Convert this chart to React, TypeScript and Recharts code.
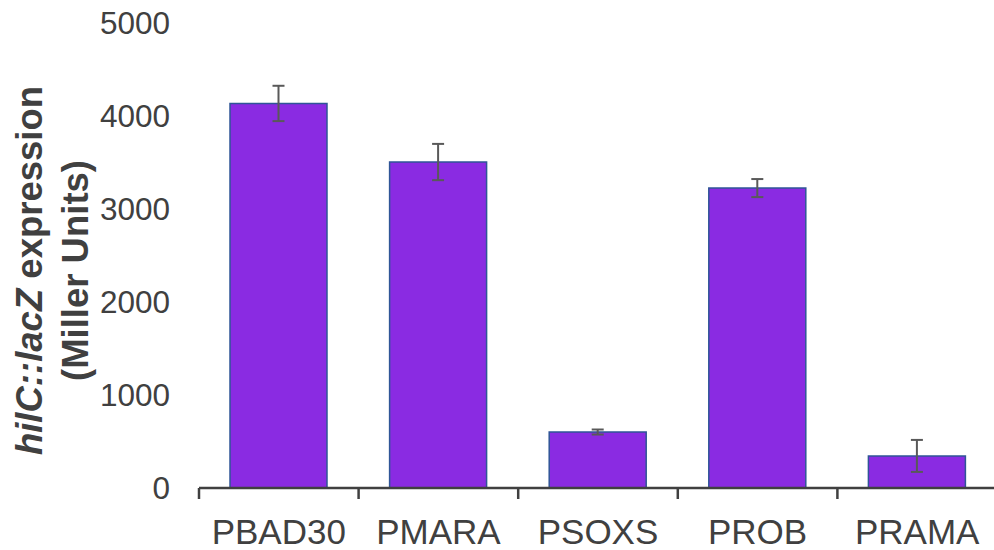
import React from 'react';
import { BarChart, Bar, XAxis, YAxis, ErrorBar } from 'recharts';

const categories = ['PBAD30', 'PMARA', 'PSOXS', 'PROB', 'PRAMA'];
const values = [4135, 3505, 602, 3225, 345];
const errors = [190, 195, 27, 97, 172];
const yTicks = [0, 1000, 2000, 3000, 4000, 5000];

const data = categories.map((name, i) => ({ name, value: values[i], err: errors[i] }));

const FONT = '"Liberation Sans", Arial, sans-serif';
const TEXT = '#404040';

const XTick = (props: any) => {
  const { x, y, payload, index, visibleTicksCount } = props;
  const off = payload && typeof payload.offset === 'number' ? payload.offset : 0;
  const axisY = y - 31;
  return (
    <g>
      <line x1={x - off} y1={axisY} x2={x - off} y2={axisY + 11} stroke="#404040" strokeWidth={2.5} />
      {index === visibleTicksCount - 1 && (
        <line x1={x + off} y1={axisY} x2={x + off} y2={axisY + 11} stroke="#404040" strokeWidth={2.5} />
      )}
      <text x={x} y={y} dy="0.71em" textAnchor="middle" fill={TEXT} fontSize={35} fontFamily={FONT}>
        {payload.value}
      </text>
    </g>
  );
};

const YLabel = (props: any) => {
  const vb = props.viewBox || { x: 0, y: 0, width: 0, height: 0 };
  const cy = vb.y + vb.height / 2 + 15;
  return (
    <g fontFamily={FONT} fontSize={36.5} fontWeight="bold" fill={TEXT}>
      <text x={42} y={cy} textAnchor="middle" transform={`rotate(-90, 42, ${cy})`}>
        <tspan fontStyle="italic">hilC::lacZ</tspan>
        <tspan> expression</tspan>
      </text>
      <text x={88} y={cy} textAnchor="middle" transform={`rotate(-90, 88, ${cy})`}>
        (Miller Units)
      </text>
    </g>
  );
};

export default function App() {
  return (
    <div style={{ position: 'absolute', left: 0, top: 0, width: 994, height: 550, background: '#fff' }}>
      <BarChart
        width={994}
        height={550}
        data={data}
        margin={{ top: 23, right: -3, bottom: 0, left: 0 }}
      >
        <XAxis
          dataKey="name"
          height={62}
          axisLine={{ stroke: '#404040', strokeWidth: 2.5 }}
          tickLine={false}
          tickSize={0}
          tickMargin={31}
          tick={<XTick />}
          interval={0}
        />
        <YAxis
          width={199}
          domain={[0, 5000]}
          ticks={yTicks}
          axisLine={false}
          tickLine={false}
          tickSize={6}
          tickMargin={23}
          tick={{ fill: TEXT, fontSize: 31.5, fontFamily: FONT }}
          label={<YLabel />}
        />
        <Bar
          dataKey="value"
          fill="#8A2BE2"
          stroke="#2F5597"
          strokeWidth={1.5}
          barSize={97}
          isAnimationActive={false}
        >
          <ErrorBar dataKey="err" width={6} stroke="#595959" strokeWidth={2} />
        </Bar>
      </BarChart>
    </div>
  );
}
